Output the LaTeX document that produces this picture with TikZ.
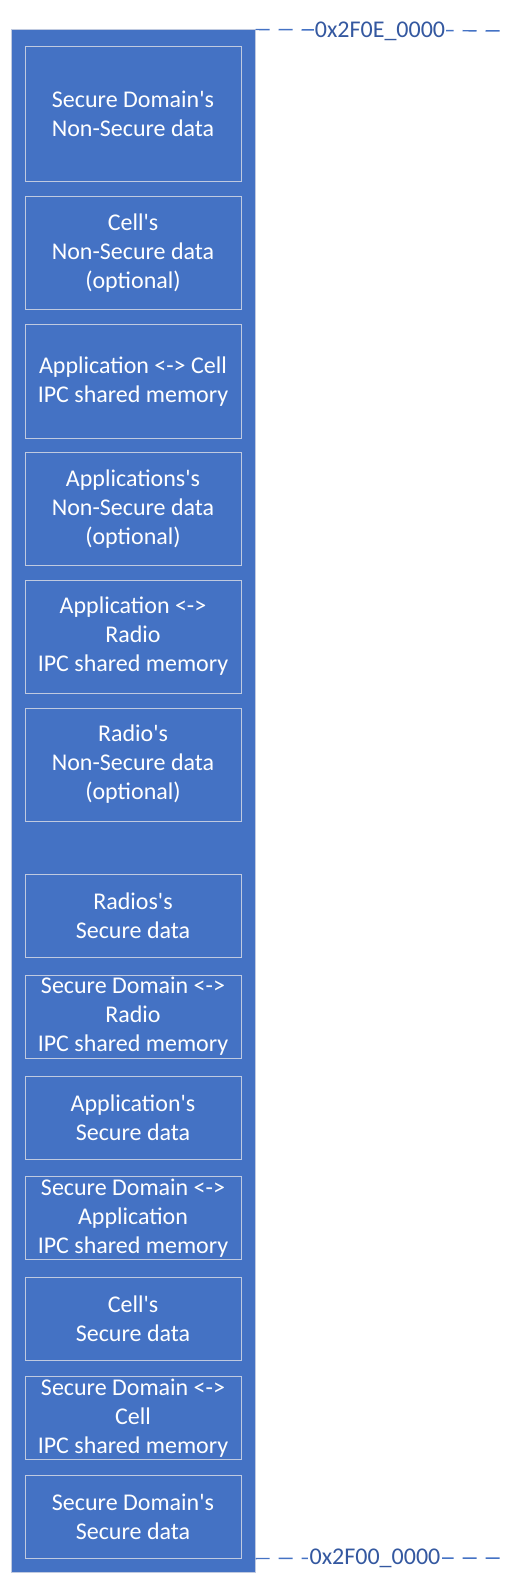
\documentclass[tikz,border=0pt]{standalone}
\usepackage{fontspec}
\setmainfont{Carlito}[Ligatures=TeXOff]
\usetikzlibrary{positioning}
\definecolor{memblue}{RGB}{68,114,196}
\definecolor{addrblue}{RGB}{52,88,160}
\definecolor{edgegray}{RGB}{192,202,224}
\tikzset{
  region/.style={draw=edgegray, line width=0.75pt, text=white, align=center,
    minimum width=162pt, inner sep=0pt, font=\fontsize{18}{21.75}\selectfont},
  bigregion/.style={region, minimum height=84.75pt},
  smallregion/.style={region, minimum height=62.25pt},
  addr/.style={fill=white, text=addrblue, inner xsep=1pt, inner ysep=2pt,
    font=\fontsize{18}{21.75}\selectfont},
  boundary/.style={draw=memblue, line width=1.1pt, dash pattern=on 10.5pt off 6.75pt}
}

\begin{document}
\begin{tikzpicture}[x=0.75pt,y=-0.75pt]
  \useasboundingbox (0,0) rectangle (517,1594);
  \node[draw=edgegray, line width=0.75pt, fill=memblue, minimum width=183pt,
    minimum height=1156.5pt, inner sep=0pt] (mem) at (133,801) {};
  % non-secure part
  \node[bigregion, minimum height=101.25pt] (sdns) at (133,114.3) {Secure Domain's\\Non-Secure data};
  \node[bigregion] (cellns) at (133,253.5) {Cell's\\Non-Secure data\\(optional)};
  \node[bigregion] (appcell) at (133,381.5) {Application <-> Cell\\IPC shared memory};
  \node[bigregion] (appns) at (133,509) {Applications's\\Non-Secure data\\(optional)};
  \node[bigregion] (appradio) at (133,636.5) {Application <->\\Radio\\IPC shared memory};
  \node[bigregion] (radions) at (133,764.5) {Radio's\\Non-Secure data\\(optional)};
  % secure part
  \node[smallregion] (radios) at (133,915.5) {Radios's\\Secure data};
  \node[smallregion] (sdradio) at (133,1016.5) {Secure Domain <->\\Radio\\IPC shared memory};
  \node[smallregion] (apps) at (133,1117.5) {Application's\\Secure data};
  \node[smallregion] (sdapp) at (133,1218) {Secure Domain <->\\Application\\IPC shared memory};
  \node[smallregion] (cells) at (133,1318.5) {Cell's\\Secure data};
  \node[smallregion] (sdcell) at (133,1418) {Secure Domain <->\\Cell\\IPC shared memory};
  \node[smallregion] (sds) at (133,1516.5) {Secure Domain's\\Secure data};
  % addresses
  \coordinate (topend) at (507,31);
  \coordinate (botend) at (507,1558);
  \draw[boundary] (mem.north east) -- (topend);
  \draw[boundary] (mem.east |- sds.south) -- (botend);
  \node[addr] (topaddr) at (380,31) {0x2F0E\_0000};
  \node[addr] (botaddr) at (375,1558) {0x2F00\_0000};
\end{tikzpicture}
\end{document}
